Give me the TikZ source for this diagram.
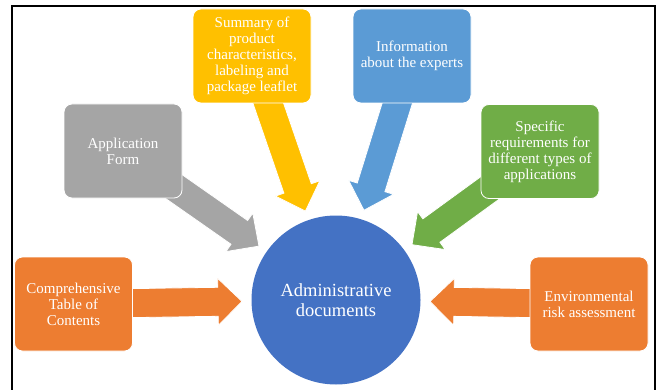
\documentclass[tikz,border=0pt]{standalone}
\usepackage{fontspec}
\setmainfont{Liberation Serif}
\usetikzlibrary{calc,backgrounds}

\definecolor{docorange}{HTML}{ED7D31}
\definecolor{docgray}{HTML}{A5A5A5}
\definecolor{docgold}{HTML}{FFC000}
\definecolor{docblue}{HTML}{5B9BD5}
\definecolor{docgreen}{HTML}{70AD47}
\definecolor{hubblue}{HTML}{4472C4}

% Block arrow from #1 to the tip #2, filled with #3
\newcommand{\blockarrow}[3]{%
  \coordinate (ba-base) at ($(#2)!24pt!(#1)$);
  \filldraw[fill=#3, draw=white, line width=0.8pt, line join=miter]
    ($(#1)!14.5pt!90:(#2)$) -- ($(ba-base)!14.5pt!90:(#2)$)
    -- ($(ba-base)!23.5pt!90:(#2)$) -- (#2)
    -- ($(ba-base)!23.5pt!-90:(#2)$) -- ($(ba-base)!14.5pt!-90:(#2)$)
    -- ($(#1)!14.5pt!-90:(#2)$) -- cycle;
}

\begin{document}
\begin{tikzpicture}[x=1pt,y=-1pt,
  card/.style={rectangle, rounded corners=8pt, draw=white, line width=0.8pt,
    text=white, minimum width=118pt, minimum height=94pt, inner sep=2pt,
    align=center, font=\fontsize{15}{16}\selectfont},
  hub/.style={circle, fill=hubblue, text=white, minimum size=169pt,
    inner sep=0pt, align=center, font=\fontsize{18.5}{20}\selectfont}]
\useasboundingbox (0,0) rectangle (660,390);

% open frame
\draw[line width=1.8pt] (12,390) -- (12,6) -- (655,6) -- (655,390);

% central circle
\node[hub] (hub) at (336,300) {Administrative\\documents};

% document cards
\node[card, fill=docgray] (form) at (123,151) {Application\\Form};
\node[card, fill=docorange] (toc) at (73.5,304) {Comprehensive\\Table of\\Contents};
\node[card, fill=docgold] (spc) at (252,56) {Summary of\\product\\characteristics,\\labeling and\\package leaflet};
\node[card, fill=docblue] (experts) at (412,56) {Information\\about the experts};
\node[card, fill=docgreen] (specific) at (540,151.5) {Specific\\requirements for\\different types of\\applications};
\node[card, fill=docorange] (era) at (589,304) {Environmental\\risk assessment};

% arrow tips, just outside the circle
\foreach \n in {form,toc,spc,experts,specific,era}
  \coordinate (tip-\n) at ($(hub.center)!94pt!(\n.center)$);

% arrows behind the cards
\begin{scope}[on background layer]
  \blockarrow{form.center}{tip-form}{docgray}
  \blockarrow{toc.center}{tip-toc}{docorange}
  \blockarrow{spc.center}{tip-spc}{docgold}
  \blockarrow{experts.center}{tip-experts}{docblue}
  \blockarrow{specific.center}{tip-specific}{docgreen}
  \blockarrow{era.center}{tip-era}{docorange}
\end{scope}
\end{tikzpicture}
\end{document}
